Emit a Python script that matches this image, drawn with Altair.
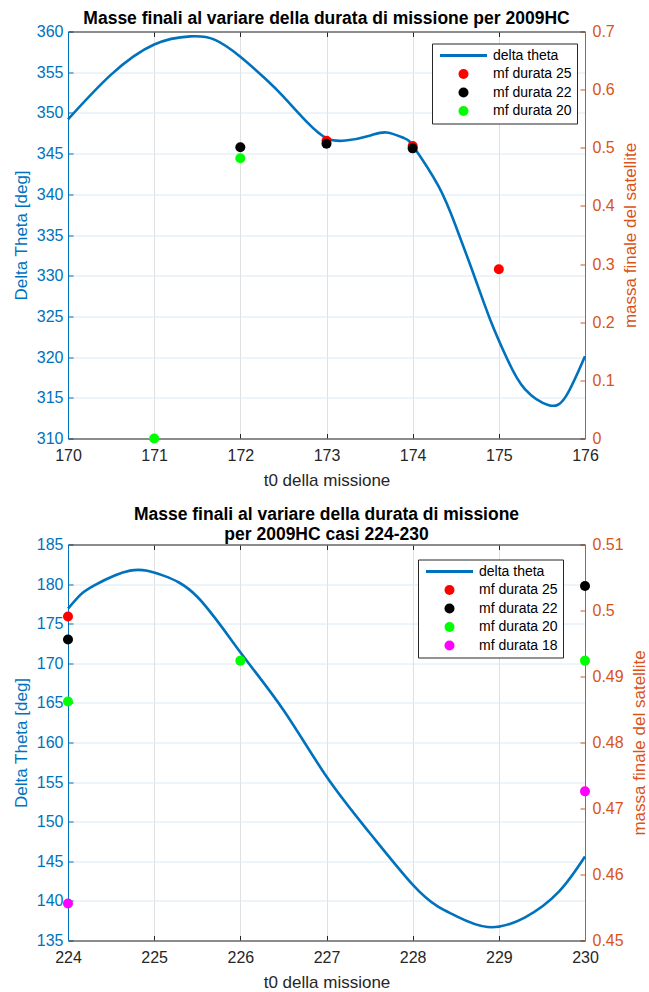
import altair as alt
import pandas as pd

FONT = "Liberation Sans"
BLUE = "#0072BD"
ORANGE = "#D95319"
DARK = "#262626"
GRID_V = "#e0e0e0"
GRID_H = "#dbe9f4"

# ---------------- top panel data ----------------
top_t = [170.0, 170.5, 171.0, 171.42, 171.7, 172.0, 172.3, 172.5, 172.78, 173.0,
         173.22, 173.5, 173.7, 173.9, 174.02, 174.3, 174.5, 174.7, 174.9, 175.1,
         175.3, 175.58, 175.78, 176.0]
top_theta = [349.2, 354.7, 358.4, 359.4, 359.0, 356.9, 354.1, 352.0, 348.8, 346.9,
             346.6, 347.2, 347.6, 346.9, 345.7, 341.0, 336.1, 330.4, 324.6, 319.7,
             316.1, 314.1, 315.2, 320.1]
top_pt_t = [173, 174, 175, 172, 173, 174, 171, 172]
top_pt_m = [0.512, 0.503, 0.291, 0.501, 0.507, 0.499, 0.0, 0.482]
top_pt_s = ["mf durata 25", "mf durata 25", "mf durata 25",
            "mf durata 22", "mf durata 22", "mf durata 22",
            "mf durata 20", "mf durata 20"]
top_names = ["delta theta", "mf durata 25", "mf durata 22", "mf durata 20"]
top_x_ticks = [170, 171, 172, 173, 174, 175, 176]
top_y_ticks = [310, 315, 320, 325, 330, 335, 340, 345, 350, 355, 360]
top_m_ticks = [0, 0.1, 0.2, 0.3, 0.4, 0.5, 0.6, 0.7]

# ---------------- bottom panel data ----------------
bot_t = [224.0, 224.14, 224.3, 224.72, 225.1, 225.5, 226.0, 226.5, 227.0, 227.5,
         228.0, 228.29, 228.5, 228.87, 229.3, 229.7, 230.0]
bot_theta = [176.9, 178.6, 179.8, 181.7, 181.1, 178.4, 171.4, 164.1, 155.7, 148.6,
             142.05, 139.3, 138.1, 136.7, 137.9, 141.2, 145.6]
bot_pt_t = [224, 224, 230, 224, 226, 230, 224, 230]
bot_pt_m = [0.4991, 0.4956, 0.5037, 0.4862, 0.4924, 0.4924, 0.4556, 0.4726]
bot_pt_s = ["mf durata 25",
            "mf durata 22", "mf durata 22",
            "mf durata 20", "mf durata 20", "mf durata 20",
            "mf durata 18", "mf durata 18"]
bot_names = ["delta theta", "mf durata 25", "mf durata 22", "mf durata 20", "mf durata 18"]
bot_x_ticks = [224, 225, 226, 227, 228, 229, 230]
bot_y_ticks = [135, 140, 145, 150, 155, 160, 165, 170, 175, 180, 185]
bot_m_ticks = [0.45, 0.46, 0.47, 0.48, 0.49, 0.5, 0.51]

SERIES_COLORS = {"delta theta": BLUE, "mf durata 25": "#FF0000", "mf durata 22": "#000000",
                 "mf durata 20": "#00FF00", "mf durata 18": "#FF00FF"}
LINE_SYMBOL = "M-4.7,-0.28H4.7V0.28H-4.7Z"


def panel(lt, lth, pt, pm, ps, names, xdom, ydom, mdom, xv, yv, mv, mfmt,
          W, H, title, lx, ly, toff):
    line_df = pd.DataFrame({"t0": lt, "theta": lth})
    pts_df = pd.DataFrame({"t0": pt, "massa": pm, "serie": ps})
    xs = alt.Scale(domain=xdom, nice=False, zero=False)
    ys = alt.Scale(domain=ydom, nice=False, zero=False)
    ms = alt.Scale(domain=mdom, nice=False, zero=False)

    line = alt.Chart(line_df).mark_line(
        color=BLUE, strokeWidth=2.6, interpolate="natural"
    ).encode(
        x=alt.X("t0:Q", scale=xs, axis=alt.Axis(
            orient="bottom", values=xv, format="d", title="t0 della missione",
            grid=True, gridColor=GRID_V, domainColor=DARK, ticks=False, tickSize=0,
            labelColor=DARK, labelFontSize=16, labelPadding=9, labelFlush=False,
            labelOverlap=False, titleFontSize=17, titleFontWeight="normal",
            titleColor=DARK, titlePadding=8.5)),
        y=alt.Y("theta:Q", scale=ys, axis=alt.Axis(
            orient="left", values=yv, format="d", title="Delta Theta [deg]",
            grid=True, gridColor=GRID_H, domainColor=BLUE, ticks=False, tickSize=0,
            labelColor=BLUE, labelFontSize=16, labelPadding=5, labelFlush=False,
            labelOverlap=False, titleFontSize=17, titleFontWeight="normal",
            titleColor=BLUE, titlePadding=6)),
    )

    leg = alt.Legend(
        orient="none", legendX=lx, legendY=ly, title=None, direction="vertical",
        fillColor="white", strokeColor=DARK, padding=5,
        labelFont=FONT, labelFontSize=14, labelColor="black",
        symbolSize=100, symbolOffset=19.5, labelOffset=22.5, rowPadding=4.5,
        symbolStrokeWidth=0, symbolOpacity=1,
    )
    cols = [SERIES_COLORS[n] for n in names]
    shapes = [LINE_SYMBOL] + ["circle"] * (len(names) - 1)

    pts = alt.Chart(pts_df).mark_point(filled=True, size=100, opacity=1).encode(
        x=alt.X("t0:Q", scale=xs, axis=alt.Axis(
            orient="top", values=xv, labels=False, title=None, domainColor=DARK,
            ticks=False, tickSize=0, grid=True, gridColor=DARK,
            gridDash=[5, H - 10, 5, 4000])),
        y=alt.Y("massa:Q", scale=ms, axis=alt.Axis(
            orient="right", values=mv, format=mfmt, title="massa finale del satellite",
            grid=True, gridColor=ORANGE, gridDash=[5, 4000], domainColor=ORANGE,
            ticks=False, tickSize=0, labelColor=ORANGE, labelFontSize=16,
            labelPadding=7, labelFlush=False, labelOverlap=False,
            titleFontSize=17, titleFontWeight="normal", titleColor=ORANGE,
            titleAngle=270, titleBaseline="top", titlePadding=8)),
        color=alt.Color("serie:N", scale=alt.Scale(domain=names, range=cols), legend=leg),
        shape=alt.Shape("serie:N", scale=alt.Scale(domain=names, range=shapes), legend=leg),
    )

    ticks_left = alt.Chart(line_df).mark_line(strokeOpacity=0).encode(
        x=alt.X("t0:Q", scale=xs, axis=None),
        y=alt.Y("theta:Q", scale=ys, axis=alt.Axis(
            orient="left", values=yv, labels=False, title=None, domain=False,
            ticks=False, tickSize=0, grid=True, gridColor=BLUE, gridDash=[5, 4000])),
    )

    return alt.layer(line, pts, ticks_left).resolve_scale(
        y="independent"
    ).resolve_axis(x="independent", y="independent").properties(
        width=W, height=H,
        title=alt.TitleParams(text=title, font=FONT, fontSize=17.5, fontWeight="bold",
                              color="black", offset=toff, anchor="middle", lineHeight=20),
    )


top = panel(top_t, top_theta, top_pt_t, top_pt_m, top_pt_s, top_names,
            [170, 176], [310, 360], [0, 0.7], top_x_ticks, top_y_ticks, top_m_ticks,
            ".1~f", 517, 407,
            "Masse finali al variare della durata di missione per 2009HC", 364, 12, -4)
bottom = panel(bot_t, bot_theta, bot_pt_t, bot_pt_m, bot_pt_s, bot_names,
               [224, 230], [135, 185], [0.45, 0.51], bot_x_ticks, bot_y_ticks, bot_m_ticks,
               ".2~f", 517, 396,
               ["Masse finali al variare della durata di missione",
                "per 2009HC casi 224-230"], 350, 15, -7)

chart = alt.vconcat(top, bottom, spacing=17).resolve_scale(
    color="independent", shape="independent"
).properties(
    padding={"left": 12, "top": 9.5, "right": 0, "bottom": 0},
    background="white",
).configure_view(stroke=None).configure_axis(
    labelFont=FONT, titleFont=FONT
).configure_legend(labelFont=FONT)

chart.save("out.html", embed_options={"renderer": "svg", "actions": False})
